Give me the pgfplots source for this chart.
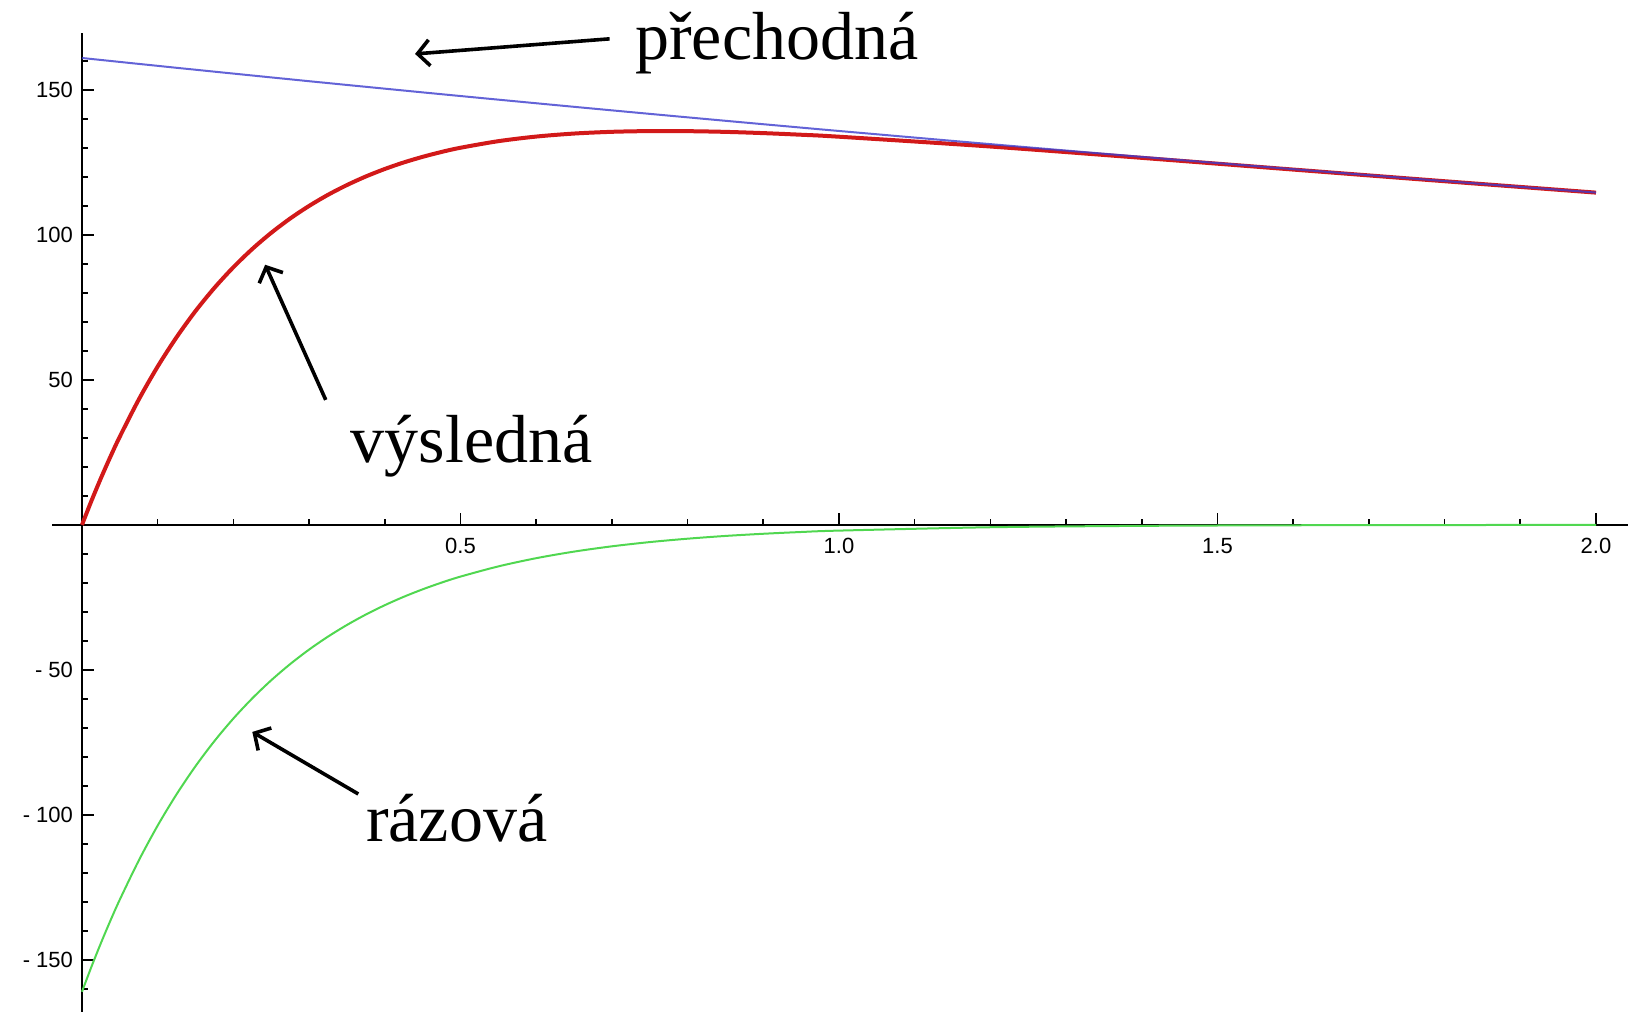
\documentclass[border=0pt]{standalone}
\usepackage{fontspec}
\setmainfont{Liberation Serif}
\newfontfamily\tickfont{Liberation Sans}
\usepackage{pgfplots}
\usepackage{pgfplotstable}
\pgfplotsset{compat=1.18}
\usetikzlibrary{arrows.meta}

\definecolor{blueline}{RGB}{60,60,205}
\definecolor{redline}{RGB}{210,25,25}
\definecolor{greenline}{RGB}{80,215,80}

% x: time; b: přechodná, g: rázová, r: výsledná (= b + g)
\pgfplotstableread{
x       b       g        r
0       161.00  -161.00  0.00
0.0125  160.66  -152.38  8.28
0.025   160.32  -144.23  16.09
0.0375  159.98  -136.51  23.47
0.05    159.64  -129.21  30.43
0.075   158.96  -115.75  43.21
0.1     158.29  -103.69  54.60
0.125   157.61  -92.89   64.72
0.15    156.95  -83.21   73.74
0.175   156.28  -74.54   81.74
0.2     155.62  -66.78   88.84
0.225   154.96  -59.82   95.14
0.25    154.30  -53.59   100.71
0.275   153.65  -48.01   105.64
0.3     152.99  -43.01   109.98
0.325   152.35  -38.53   113.82
0.35    151.70  -34.52   117.18
0.375   151.06  -30.92   120.14
0.4     150.42  -27.70   122.72
0.425   149.78  -24.81   124.97
0.45    149.14  -22.23   126.91
0.475   148.51  -19.91   128.60
0.5     147.88  -17.84   130.04
0.55    146.63  -14.32   132.31
0.6     145.39  -11.49   133.90
0.65    144.16  -9.22    134.94
0.7     142.94  -7.40    135.54
0.75    141.73  -5.94    135.79
0.8     140.53  -4.77    135.76
0.85    139.34  -3.82    135.52
0.9     138.16  -3.07    135.09
0.95    136.99  -2.46    134.53
1.0     135.83  -1.98    133.85
1.2     131.29  -0.82    130.47
1.4     126.90  -0.34    126.56
1.6     122.66  -0.14    122.52
1.8     118.56  -0.06    118.50
2.0     114.59  -0.02    114.57
}\proudy

\begin{document}
\begin{tikzpicture}
\begin{axis}[
  scale only axis,
  width=788pt, height=489.5pt,
  xmin=-0.0396, xmax=2.0423,
  ymin=-167.9, ymax=169.7,
  axis lines=middle,
  axis line style={-, line width=1pt, black},
  clip=false,
  xtick={0.5,1,1.5,2},
  xticklabels={0.5,1.0,1.5,2.0},
  minor xtick={0.1,0.2,0.3,0.4,0.6,0.7,0.8,0.9,1.1,1.2,1.3,1.4,1.6,1.7,1.8,1.9},
  ytick={-150,-100,-50,50,100,150},
  yticklabels={- 150,- 100,- 50,50,100,150},
  minor ytick={-160,-140,-130,-120,-110,-90,-80,-70,-60,-40,-30,-20,-10,10,20,30,40,60,70,80,90,110,120,130,140,160},
  tick align=inside,
  major tick length=6pt,
  minor tick length=3pt,
  every tick/.style={black, line width=0.8pt},
  ticklabel style={font=\tickfont\fontsize{11}{13}\selectfont, text=black},
  xticklabel style={yshift=-3pt},
  yticklabel style={xshift=-1pt},
]
\coordinate (bbsw) at (axis cs:-0.1083,-167.9);
\coordinate (bbne) at (axis cs:2.0423,181.0);

\addplot[greenline, line width=1pt, smooth] table[x=x, y=g] {\proudy};
\addplot[redline, line width=2pt, smooth] table[x=x, y=r] {\proudy};
\addplot[blueline, line width=1pt, smooth, opacity=0.8] table[x=x, y=b] {\proudy};

\node[font=\fontsize{34}{40}\selectfont] at (axis cs:0.918,166) {přechodná};
\node[font=\fontsize{34}{40}\selectfont] at (axis cs:0.515,27) {výsledná};
\node[font=\fontsize{34}{40}\selectfont] at (axis cs:0.495,-101) {rázová};

\draw[line width=1.8pt, -{Straight Barb[length=6pt,width=13pt,line width=1.8pt]}]
  (axis cs:0.697,167.6) -- (axis cs:0.440,162.4);
\draw[line width=1.8pt, -{Straight Barb[length=6pt,width=13pt,line width=1.8pt]}]
  (axis cs:0.322,43.1) -- (axis cs:0.242,89.7);
\draw[line width=1.8pt, -{Straight Barb[length=6pt,width=13pt,line width=1.8pt]}]
  (axis cs:0.365,-92.8) -- (axis cs:0.225,-71.4);
\end{axis}
\pgfresetboundingbox
\useasboundingbox (bbsw) rectangle (bbne);
\end{tikzpicture}
\end{document}
